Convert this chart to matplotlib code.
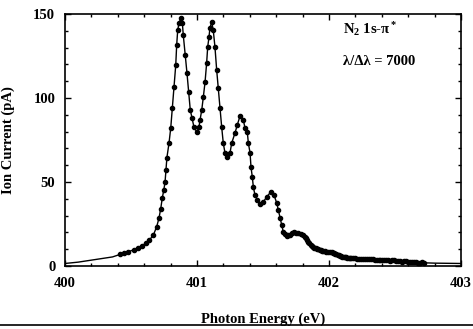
import numpy as np
import matplotlib
matplotlib.use("Agg")
import matplotlib.pyplot as plt
from matplotlib.lines import Line2D

# measured points (photon energy offset from 400 eV, ion current in pA)
rise_e = [0.42, 0.45, 0.48, 0.52, 0.55, 0.58, 0.61, 0.64, 0.67, 0.695,
          0.712, 0.725, 0.737, 0.748, 0.758, 0.765]
rise_i = [7.0, 7.8, 8.6, 9.6, 10.8, 12.0, 13.4, 15.5, 18.5, 23.5,
          28.5, 34.0, 40.5, 45.0, 50.0, 57.1]

peak_e = [0.772, 0.788, 0.801, 0.813, 0.826, 0.839, 0.846, 0.854, 0.864, 0.879,
          0.889, 0.896, 0.911, 0.924, 0.937, 0.949, 0.962, 0.977, 0.998, 1.015,
          1.023, 1.036, 1.048, 1.061, 1.073, 1.081, 1.091, 1.098, 1.111, 1.123,
          1.136, 1.149, 1.161, 1.174, 1.187, 1.199, 1.212, 1.230, 1.250, 1.263,
          1.288, 1.305, 1.326, 1.351, 1.364, 1.381, 1.389, 1.402, 1.409, 1.419,
          1.427, 1.439, 1.457, 1.477, 1.502, 1.528, 1.558, 1.583, 1.604, 1.616,
          1.629, 1.642]
peak_i = [64.5, 73.2, 82.1, 94.0, 106.5, 119.6, 131.5, 140.5, 144.6, 147.6,
          144.6, 137.5, 125.6, 114.9, 103.6, 92.9, 88.1, 82.7, 79.8, 82.7,
          86.9, 92.9, 100.6, 109.5, 120.8, 130.4, 136.3, 141.7, 145.2, 140.5,
          130.4, 116.7, 106.0, 94.0, 82.7, 73.2, 67.3, 64.9, 67.3, 73.2,
          79.2, 83.9, 89.3, 86.9, 82.0, 79.8, 73.2, 67.3, 58.9, 53.0,
          47.0, 42.3, 39.3, 36.9, 38.1, 41.1, 44.0, 42.3, 37.5, 33.3,
          28.6, 24.4]

tail_e = [1.654, 1.667, 1.680, 1.692, 1.705, 1.720, 1.735, 1.751, 1.767, 1.786,
          1.805, 1.815, 1.825, 1.834, 1.843, 1.852, 1.862, 1.871, 1.881, 1.890,
          1.90, 1.91, 1.919, 1.93, 1.94, 1.948, 1.957, 1.968, 1.98, 1.994,
          2.008, 2.019, 2.03, 2.038, 2.045, 2.055, 2.065, 2.074, 2.083, 2.092,
          2.10, 2.11, 2.121, 2.13, 2.14, 2.15, 2.159, 2.17, 2.18, 2.195,
          2.21, 2.225, 2.24, 2.255, 2.27, 2.285, 2.30, 2.315, 2.33, 2.345,
          2.36, 2.375, 2.39, 2.405, 2.42, 2.435, 2.45, 2.465, 2.48, 2.495,
          2.51, 2.525, 2.54, 2.555, 2.57, 2.585, 2.60, 2.615, 2.63, 2.645,
          2.66, 2.675, 2.69, 2.705, 2.72]
tail_i = [20.2, 19.0, 17.9, 18.3, 18.5, 19.4, 20.2, 19.9, 19.6, 19.1,
          18.5, 17.5, 16.5, 15.4, 14.3, 13.4, 12.5, 11.9, 11.3, 11.0,
          10.6, 10.3, 10.1, 9.8, 9.5, 9.2, 8.9, 8.7, 8.6, 8.4,
          8.3, 8.1, 7.9, 7.6, 7.4, 7.0, 6.6, 6.3, 6.0, 5.8,
          5.6, 5.4, 5.3, 5.1, 5.0, 4.9, 4.8, 4.7, 4.6, 4.5,
          4.4, 4.3, 4.2, 4.3, 4.1, 3.9, 4.0, 4.1, 3.9, 3.6,
          3.7, 3.8, 3.6, 3.3, 3.5, 3.7, 3.4, 3.1, 3.3, 3.4,
          3.0, 3.1, 2.9, 2.6, 2.7, 2.9, 2.5, 2.3, 2.3, 2.4,
          2.2, 2.0, 2.0, 2.1, 1.9]

# fitted curve outside the measured range
fit_left_e = [0.0, 0.10, 0.21, 0.30, 0.36]
fit_left_i = [1.5, 2.3, 3.6, 4.6, 5.4]
fit_right_e = [2.80, 2.90, 3.00]
fit_right_i = [1.7, 1.6, 1.5]

E0 = 400.0
dot_e = E0 + np.array(rise_e + peak_e + tail_e)
dot_i = np.array(rise_i + peak_i + tail_i)
line_e = E0 + np.array(fit_left_e + rise_e + peak_e + tail_e + fit_right_e)
line_i = np.array(fit_left_i + rise_i + peak_i + tail_i + fit_right_i)

plt.rcParams['font.family'] = ['Liberation Serif', 'DejaVu Serif']
plt.rcParams['font.weight'] = 'bold'
plt.rcParams['mathtext.fontset'] = 'custom'
plt.rcParams['mathtext.rm'] = 'Liberation Serif:bold'
plt.rcParams['mathtext.it'] = 'Liberation Serif:bold'

fig = plt.figure(figsize=(4.73, 3.29), dpi=100)
fig.subplots_adjust(left=65/473, right=461/473, top=1-14/329, bottom=1-266/329)
ax = fig.add_subplot(111)

ax.plot(line_e, line_i, color='black', lw=1.0, zorder=2)
ax.plot(dot_e, dot_i, 'o', color='black', ms=3.0, zorder=3)

ax.set_xlim(400, 403)
ax.set_ylim(0, 150)
ax.set_xticks([400, 401, 402, 403])
ax.set_xticks(np.arange(400, 403.01, 0.2), minor=True)
ax.set_yticks([0, 50, 100, 150])
ax.set_yticks(np.arange(0, 151, 10), minor=True)
ax.tick_params(which='both', direction='in', top=True, right=True, labelsize=10.5)
ax.tick_params(axis='x', pad=8)
ax.tick_params(axis='y', pad=7)
ax.tick_params(which='major', length=4, width=1)
ax.tick_params(which='minor', length=2.5, width=1)
for lab in ax.get_xticklabels() + ax.get_yticklabels():
    lab.set_fontweight('bold')
for sp in ax.spines.values():
    sp.set_linewidth(1.2)

ax.set_xlabel("Photon Energy (eV)", fontsize=10.5, fontweight='bold', labelpad=16)
ax.set_ylabel("Ion Current (pA)", fontsize=10.5, fontweight='bold', labelpad=13)

ax.text(0.702, 0.94, r"N$_2$ 1s-$\pi^*$", transform=ax.transAxes,
        fontsize=10.5, fontweight='bold', va='center', ha='left')
ax.text(0.702, 0.813, "λ/Δλ = 7000", transform=ax.transAxes,
        fontsize=10.5, fontweight='bold', va='center', ha='left')

fig.add_artist(Line2D([0, 1], [1-325/329, 1-325/329], color='black', lw=1.2,
                      transform=fig.transFigure))

fig.savefig("out.png", dpi=100)
